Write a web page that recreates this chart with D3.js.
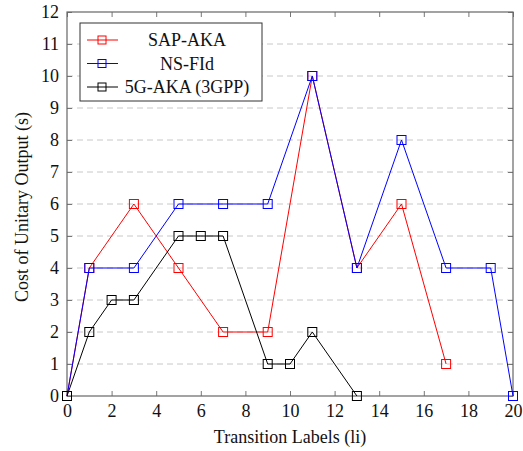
<!DOCTYPE html>
<head>
  <meta charset="utf-8">
  <script src="https://d3js.org/d3.v7.min.js"></script>
  <style>
    body { margin: 0; background: #fff; }
    text { font-family: "Liberation Serif", "DejaVu Serif", serif; }
  </style>
</head>
<body>
  <svg width="523" height="451"></svg>
  <script>

  // values
  var sapX = [0, 1, 3, 5, 7, 9, 11, 13, 15, 17],
      sapY = [0, 4, 6, 4, 2, 2, 10, 4, 6, 1];
  var nsX = [0, 1, 3, 5, 7, 9, 11, 13, 15, 17, 19, 20],
      nsY = [0, 4, 4, 6, 6, 6, 10, 4, 8, 4, 4, 0];
  var akaX = [0, 1, 2, 3, 5, 6, 7, 9, 10, 11, 13],
      akaY = [0, 2, 3, 3, 5, 5, 5, 1, 1, 2, 0];
  var seriesNames = ["SAP-AKA", "NS-FId", "5G-AKA (3GPP)"];
  var seriesColors = ["#ff0000", "#0000ff", "#000000"];
  var xTicks = [0, 2, 4, 6, 8, 10, 12, 14, 16, 18, 20];
  var yTicks = [0, 1, 2, 3, 4, 5, 6, 7, 8, 9, 10, 11, 12];

  var svg = d3.select("svg");
  var pLeft = 67, pRight = 513, pTop = 12, pBottom = 396;
  var fs = 18;

  var x = d3.scaleLinear().domain([0, 20]).range([pLeft, pRight]);
  var y = d3.scaleLinear().domain([0, 12]).range([pBottom, pTop]);

  // dashed grid
  svg.append("g").selectAll("line")
    .data(yTicks.slice(1, -1))
    .enter().append("line")
      .attr("x1", pLeft).attr("x2", pRight)
      .attr("y1", function(d) { return y(d); })
      .attr("y2", function(d) { return y(d); })
      .attr("stroke", "#c8c8c8")
      .attr("stroke-dasharray", "6,4");

  function styleAxis(g) {
    g.select(".domain").remove();
    g.selectAll(".tick line").attr("stroke", "#777");
    g.selectAll(".tick text")
      .attr("font-size", fs)
      .attr("fill", "#111");
  }

  svg.append("g")
      .attr("transform", "translate(0," + pBottom + ")")
      .call(d3.axisBottom(x).tickValues(xTicks).tickSize(-5).tickPadding(8))
      .call(styleAxis);
  svg.append("g")
      .attr("transform", "translate(0," + pTop + ")")
      .call(d3.axisTop(x).tickValues(xTicks).tickSize(-5).tickFormat(""))
      .call(styleAxis);
  svg.append("g")
      .attr("transform", "translate(" + pLeft + ",0)")
      .call(d3.axisLeft(y).tickValues(yTicks).tickSize(-5).tickPadding(8))
      .call(styleAxis);
  svg.append("g")
      .attr("transform", "translate(" + pRight + ",0)")
      .call(d3.axisRight(y).tickValues(yTicks).tickSize(-5).tickFormat(""))
      .call(styleAxis);

  svg.append("rect")
      .attr("x", pLeft).attr("y", pTop)
      .attr("width", pRight - pLeft).attr("height", pBottom - pTop)
      .attr("fill", "none")
      .attr("stroke", "#666")
      .attr("stroke-width", 1.2);

  var line = d3.line()
      .x(function(d) { return x(d[0]); })
      .y(function(d) { return y(d[1]); });

  var series = [d3.zip(sapX, sapY), d3.zip(nsX, nsY), d3.zip(akaX, akaY)];

  series.forEach(function(pts, i) {
    var g = svg.append("g");
    g.append("path")
        .attr("d", line(pts))
        .attr("fill", "none")
        .attr("stroke", seriesColors[i])
        .attr("stroke-width", 1);
    g.selectAll("rect")
      .data(pts)
      .enter().append("rect")
        .attr("x", function(d) { return x(d[0]) - 4.5; })
        .attr("y", function(d) { return y(d[1]) - 4.5; })
        .attr("width", 9).attr("height", 9)
        .attr("fill", "none")
        .attr("stroke", seriesColors[i])
        .attr("stroke-width", 1);
  });

  // legend
  var lg = svg.append("g");
  lg.append("rect")
      .attr("x", 80).attr("y", 23)
      .attr("width", 182).attr("height", 78)
      .attr("fill", "#fff")
      .attr("stroke", "#333")
      .attr("stroke-width", 1);
  seriesNames.forEach(function(name, i) {
    var ly = 40 + i * 23.5;
    lg.append("line")
        .attr("x1", 87).attr("x2", 118)
        .attr("y1", ly).attr("y2", ly)
        .attr("stroke", seriesColors[i]);
    lg.append("rect")
        .attr("x", 98).attr("y", ly - 4)
        .attr("width", 8).attr("height", 8)
        .attr("fill", "none")
        .attr("stroke", seriesColors[i]);
    lg.append("text")
        .attr("x", 187).attr("y", ly + 6)
        .attr("text-anchor", "middle")
        .attr("font-size", fs)
        .attr("fill", "#111")
        .text(name);
  });

  svg.append("text")
      .attr("x", (pLeft + pRight) / 2)
      .attr("y", 443)
      .attr("text-anchor", "middle")
      .attr("font-size", fs)
      .attr("fill", "#111")
      .text("Transition Labels (li)");

  svg.append("text")
      .attr("transform", "translate(28,207) rotate(-90)")
      .attr("text-anchor", "middle")
      .attr("font-size", fs)
      .attr("fill", "#111")
      .text("Cost of Unitary Output (s)");

  </script>
</body>
